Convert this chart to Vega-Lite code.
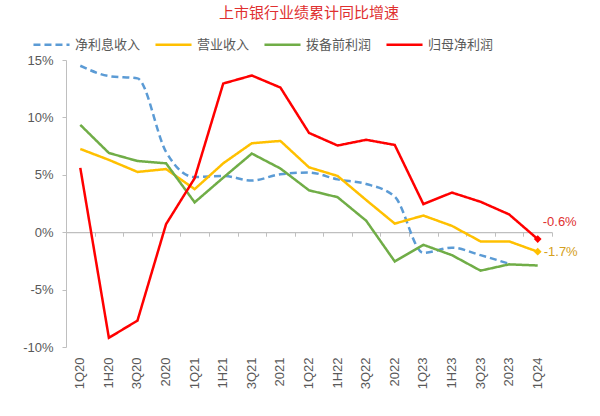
{
  "$schema": "https://vega.github.io/schema/vega-lite/v6.json",
  "width": 486,
  "height": 287,
  "autosize": "none",
  "padding": {"left": 66, "top": 60, "right": 48, "bottom": 69},
  "background": "white",
  "title": {"text": "上市银行业绩累计同比增速", "color": "#e03030", "fontSize": 15, "font": "Noto Sans CJK SC", "fontWeight": "normal", "anchor": "middle", "offset": 4},
  "datasets": {
    "rows": [
      {"q": "1Q20", "s": "净利息收入", "v": 14.5}, {"q": "1H20", "s": "净利息收入", "v": 13.6}, {"q": "3Q20", "s": "净利息收入", "v": 13.4}, {"q": "2020", "s": "净利息收入", "v": 7.0},
      {"q": "1Q21", "s": "净利息收入", "v": 4.8}, {"q": "1H21", "s": "净利息收入", "v": 4.9}, {"q": "3Q21", "s": "净利息收入", "v": 4.5}, {"q": "2021", "s": "净利息收入", "v": 5.05},
      {"q": "1Q22", "s": "净利息收入", "v": 5.2}, {"q": "1H22", "s": "净利息收入", "v": 4.6}, {"q": "3Q22", "s": "净利息收入", "v": 4.2}, {"q": "2022", "s": "净利息收入", "v": 3.1},
      {"q": "1Q23", "s": "净利息收入", "v": -1.8}, {"q": "1H23", "s": "净利息收入", "v": -1.35}, {"q": "3Q23", "s": "净利息收入", "v": -2.0}, {"q": "2023", "s": "净利息收入", "v": -2.75},
      {"q": "1Q20", "s": "营业收入", "v": 7.25}, {"q": "1H20", "s": "营业收入", "v": 6.3}, {"q": "3Q20", "s": "营业收入", "v": 5.25}, {"q": "2020", "s": "营业收入", "v": 5.5},
      {"q": "1Q21", "s": "营业收入", "v": 3.75}, {"q": "1H21", "s": "营业收入", "v": 6.0}, {"q": "3Q21", "s": "营业收入", "v": 7.75}, {"q": "2021", "s": "营业收入", "v": 7.95},
      {"q": "1Q22", "s": "营业收入", "v": 5.65}, {"q": "1H22", "s": "营业收入", "v": 4.9}, {"q": "3Q22", "s": "营业收入", "v": 2.8}, {"q": "2022", "s": "营业收入", "v": 0.75},
      {"q": "1Q23", "s": "营业收入", "v": 1.45}, {"q": "1H23", "s": "营业收入", "v": 0.55}, {"q": "3Q23", "s": "营业收入", "v": -0.8}, {"q": "2023", "s": "营业收入", "v": -0.8},
      {"q": "1Q24", "s": "营业收入", "v": -1.7},
      {"q": "1Q20", "s": "拨备前利润", "v": 9.35}, {"q": "1H20", "s": "拨备前利润", "v": 6.9}, {"q": "3Q20", "s": "拨备前利润", "v": 6.2}, {"q": "2020", "s": "拨备前利润", "v": 6.0},
      {"q": "1Q21", "s": "拨备前利润", "v": 2.6}, {"q": "1H21", "s": "拨备前利润", "v": 4.75}, {"q": "3Q21", "s": "拨备前利润", "v": 6.85}, {"q": "2021", "s": "拨备前利润", "v": 5.55},
      {"q": "1Q22", "s": "拨备前利润", "v": 3.65}, {"q": "1H22", "s": "拨备前利润", "v": 3.05}, {"q": "3Q22", "s": "拨备前利润", "v": 1.0}, {"q": "2022", "s": "拨备前利润", "v": -2.55},
      {"q": "1Q23", "s": "拨备前利润", "v": -1.1}, {"q": "1H23", "s": "拨备前利润", "v": -2.0}, {"q": "3Q23", "s": "拨备前利润", "v": -3.35}, {"q": "2023", "s": "拨备前利润", "v": -2.8},
      {"q": "1Q24", "s": "拨备前利润", "v": -2.9},
      {"q": "1Q20", "s": "归母净利润", "v": 5.6}, {"q": "1H20", "s": "归母净利润", "v": -9.2}, {"q": "3Q20", "s": "归母净利润", "v": -7.7}, {"q": "2020", "s": "归母净利润", "v": 0.7},
      {"q": "1Q21", "s": "归母净利润", "v": 4.7}, {"q": "1H21", "s": "归母净利润", "v": 12.95}, {"q": "3Q21", "s": "归母净利润", "v": 13.65}, {"q": "2021", "s": "归母净利润", "v": 12.6},
      {"q": "1Q22", "s": "归母净利润", "v": 8.65}, {"q": "1H22", "s": "归母净利润", "v": 7.55}, {"q": "3Q22", "s": "归母净利润", "v": 8.05}, {"q": "2022", "s": "归母净利润", "v": 7.6},
      {"q": "1Q23", "s": "归母净利润", "v": 2.45}, {"q": "1H23", "s": "归母净利润", "v": 3.45}, {"q": "3Q23", "s": "归母净利润", "v": 2.65}, {"q": "2023", "s": "归母净利润", "v": 1.55},
      {"q": "1Q24", "s": "归母净利润", "v": -0.6}
    ]
  },
  "data": {"name": "rows"},
  "resolve": {"axis": {"x": "independent"}},
  "layer": [
    {
      "encoding": {
        "x": {
          "field": "q", "type": "ordinal",
          "sort": ["1Q20","1H20","3Q20","2020","1Q21","1H21","3Q21","2021","1Q22","1H22","3Q22","2022","1Q23","1H23","3Q23","2023","1Q24"],
          "axis": {"orient": "bottom", "title": null, "domain": false, "ticks": false, "labelAngle": -90, "labelPadding": 10, "labelFontSize": 13, "labelColor": "#595959", "labelFont": "Liberation Sans"}
        },
        "y": {
          "field": "v", "type": "quantitative",
          "scale": {"domain": [-10, 15], "nice": false, "zero": false},
          "axis": {"title": null, "values": [-10, -5, 0, 5, 10, 15], "labelExpr": "datum.value + '%'", "grid": false, "domainColor": "#bfbfbf", "tickColor": "#bfbfbf", "tickSize": 4, "labelPadding": 9, "labelFontSize": 13, "labelColor": "#595959", "labelFont": "Liberation Sans"}
        }
      },
      "layer": [
        {
          "transform": [{"filter": "datum.s === '净利息收入'"}],
          "mark": {"type": "line", "strokeWidth": 2.5, "interpolate": "monotone"},
          "encoding": {
            "color": {"field": "s", "type": "nominal", "scale": {"domain": ["净利息收入", "营业收入", "拨备前利润", "归母净利润"], "range": ["#5b9bd5", "#ffc000", "#70ad47", "#ff0000"]}, "legend": {"title": null}},
            "strokeDash": {"field": "s", "type": "nominal", "scale": {"domain": ["净利息收入", "营业收入", "拨备前利润", "归母净利润"], "range": [[7, 4], [1, 0], [1, 0], [1, 0]]}, "legend": {"title": null}}
          }
        },
        {
          "transform": [{"filter": "datum.s !== '净利息收入'"}],
          "mark": {"type": "line", "strokeWidth": 2.5},
          "encoding": {
            "color": {"field": "s", "type": "nominal", "legend": {"title": null}},
            "strokeDash": {"field": "s", "type": "nominal", "legend": {"title": null}}
          }
        },
        {
          "transform": [{"filter": "datum.s === '归母净利润' && datum.q === '1Q24'"}],
          "mark": {"type": "point", "shape": "diamond", "filled": true, "size": 60, "color": "#ff0000", "opacity": 1}
        },
        {
          "transform": [{"filter": "datum.s === '营业收入' && datum.q === '1Q24'"}],
          "mark": {"type": "point", "shape": "diamond", "filled": true, "size": 60, "color": "#ffc000", "opacity": 1}
        },
        {
          "transform": [{"filter": "datum.s === '归母净利润' && datum.q === '1Q24'"}, {"calculate": "toString(datum.v) + '%'", "as": "lab"}],
          "mark": {"type": "text", "align": "left", "baseline": "middle", "dx": 5, "dy": -17, "fontSize": 13, "color": "#e03030", "font": "Liberation Sans"},
          "encoding": {"text": {"field": "lab", "type": "nominal"}}
        },
        {
          "transform": [{"filter": "datum.s === '营业收入' && datum.q === '1Q24'"}, {"calculate": "toString(datum.v) + '%'", "as": "lab"}],
          "mark": {"type": "text", "align": "left", "baseline": "middle", "dx": 6, "dy": 0, "fontSize": 13, "color": "#d4a020", "font": "Liberation Sans"},
          "encoding": {"text": {"field": "lab", "type": "nominal"}}
        }
      ]
    },
    {
      "mark": {"type": "rule", "opacity": 0},
      "encoding": {
        "x": {
          "field": "q", "type": "ordinal",
          "sort": ["1Q20","1H20","3Q20","2020","1Q21","1H21","3Q21","2021","1Q22","1H22","3Q22","2022","1Q23","1H23","3Q23","2023","1Q24"],
          "axis": {"orient": "bottom", "offset": -114.8, "title": null, "labels": false, "domain": true, "ticks": true, "tickBand": "extent", "tickSize": 4, "domainColor": "#bfbfbf", "tickColor": "#bfbfbf", "domainWidth": 1.2}
        }
      }
    }
  ],
  "config": {
    "view": {"stroke": null},
    "font": "Noto Sans CJK SC",
    "legend": {"orient": "none", "legendX": -34, "legendY": -35, "direction": "horizontal", "symbolType": "stroke", "symbolSize": 1300, "symbolStrokeWidth": 2.5, "labelFontSize": 13, "labelColor": "#595959", "labelFont": "Noto Sans CJK SC", "columnPadding": 9, "labelOffset": 4}
  }
}
